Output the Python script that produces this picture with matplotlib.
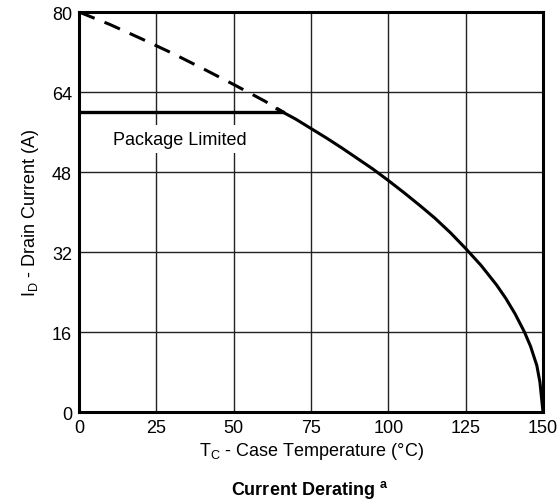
import numpy as np
import matplotlib
matplotlib.use("Agg")
import matplotlib.pyplot as plt

plt.rcParams['font.family'] = ['Liberation Sans', 'DejaVu Sans']

# data
dash_t = [0, 10, 20, 30, 40, 50, 60, 66]
dash_i = [80, 77.5, 74.7, 71.8, 68.7, 65.5, 62.2, 60]

pkg_t = [0, 66]
pkg_i = [60, 60]

derate_t = [64, 70, 75, 80, 85, 90, 95, 100, 105, 110, 115, 120, 125, 130,
            135, 138, 141, 144, 146, 148, 149, 150]
derate_i = [60.6, 58.6, 56.7, 54.8, 52.8, 50.7, 48.6, 46.3, 43.9, 41.4, 38.8,
            35.9, 32.7, 29.3, 25.4, 22.7, 19.6, 16.0, 13.1, 9.3, 6.0, 0]

xticks = [0, 25, 50, 75, 100, 125, 150]
yticks = [0, 16, 32, 48, 64, 80]

fig = plt.figure(figsize=(5.57, 5.02), dpi=100)
ax = fig.add_axes([79/557, 1 - 413/502, 464/557, 400/502])

ax.plot(dash_t, dash_i, color='black', lw=2.2, ls=(0, (5.5, 3.5)))
ax.plot(pkg_t, pkg_i, color='black', lw=2.4)
ax.plot(derate_t, derate_i, color='black', lw=2.2)

ax.set_xlim(0, 150)
ax.set_ylim(0, 80)
ax.set_xticks(xticks)
ax.set_yticks(yticks)
ax.grid(True, color='#222222', lw=1.0)
ax.tick_params(length=0, labelsize=13, pad=5)
for s in ax.spines.values():
    s.set_linewidth(2.2)

ax.text(32.5, 54.6, 'Package Limited', fontsize=13, ha='center', va='center',
        bbox=dict(facecolor='white', edgecolor='none', pad=4))

ax.set_xlabel(r'T$_\mathregular{C}$ - Case Temperature (°C)', fontsize=13, labelpad=3)
ax.set_ylabel(r'I$_\mathregular{D}$ - Drain Current (A)', fontsize=13, labelpad=8)

fig.text(310/557, 1 - 490/502, r'Current Derating $^\mathregular{a}$', fontsize=13,
         fontweight='bold', ha='center', va='center')

fig.savefig('out.png', dpi=100)
